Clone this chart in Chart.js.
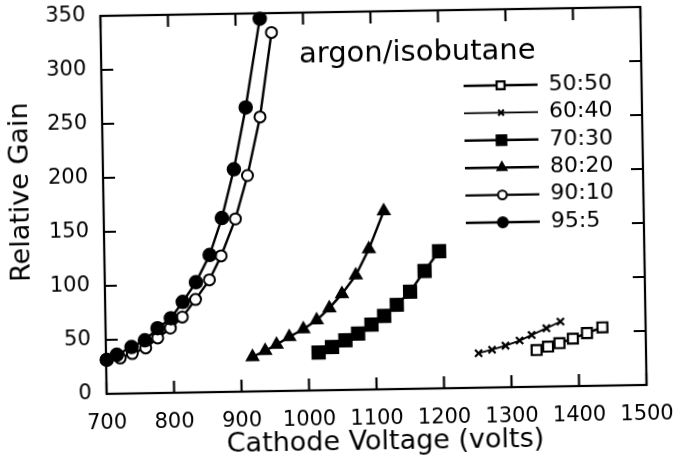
<!DOCTYPE html>
<html>
<head>
<meta charset="utf-8">
<script src="https://cdn.jsdelivr.net/npm/chart.js@4.4.1/dist/chart.umd.min.js"></script>
<style>
  html, body { margin: 0; padding: 0; background: #fff; }
  #wrap { width: 680px; height: 465px; overflow: hidden; }
  /* el original es un escaneo un poco girado */
  #grafico { transform: rotate(-0.95deg); }
</style>
</head>
<body>
<div id="wrap"><canvas id="grafico" width="680" height="465"></canvas></div>
<script>
// Datos

const mezclas = ["50:50", "60:40", "70:30", "80:20", "90:10", "95:5"];

const volts5050 = [1338, 1355, 1372, 1392, 1413, 1436];
const gain5050 = [34, 37, 40, 44, 49, 54];

const volts6040 = [1252, 1272, 1292, 1313, 1331, 1353, 1374];
const gain6040 = [32, 35, 38.5, 43, 48, 54, 60];

const volts7030 = [1015, 1035, 1055, 1074, 1094, 1113, 1132, 1152, 1174, 1196];
const gain7030 = [35, 40, 46, 52, 60, 68, 78, 90, 109, 127];

const volts8020 = [917, 936, 953, 972, 993, 1013, 1032, 1051, 1072, 1092, 1115];
const gain8020 = [32, 37.5, 43, 50, 57, 65, 76, 89, 106, 130, 165];

const volts9010 = [721, 739, 759, 777, 796, 814, 834, 855, 873, 895, 914, 934, 953];
const gain9010 = [33, 37, 42, 51, 60, 70, 86, 104, 126, 160, 200, 254, 332];

const volts955 = [701, 716, 738, 758, 777, 797, 815, 835, 856, 875, 894, 913, 936];
const gain955 = [31.5, 36, 43, 49, 60, 69, 84, 102, 127, 161, 206, 263, 345];

// Ejes
const xMin = 700;
const xMax = 1500;
const xPaso = 100;
const yMin = 0;
const yMax = 350;
const yPaso = 50;

const tituloX = "Cathode Voltage (volts)";
const tituloY = "Relative Gain";
const tituloLeyenda = "argon/isobutane";

const fuente = "'DejaVu Sans', sans-serif";

// Armar puntos x/y
function puntos(volts, gain) {
  return volts.map((v, i) => ({ x: v, y: gain[i] }));
}

function serie(label, volts, gain, estilo) {
  return Object.assign(
    {
      label: label,
      data: puntos(volts, gain),
      borderColor: "#000",
      backgroundColor: "#000",
      pointBorderColor: "#000",
      pointBackgroundColor: "#000",
      borderWidth: 2.4,
      pointBorderWidth: 1.5,
      tension: 0,
      clip: false,
    },
    estilo
  );
}

const datasets = [
  serie(mezclas[0], volts5050, gain5050, {
    pointStyle: "rect",
    pointRadius: 7,
    pointBackgroundColor: "#fff",
    pointBorderWidth: 2.2,
  }),
  serie(mezclas[1], volts6040, gain6040, {
    pointStyle: "crossRot",
    pointRadius: 5,
    pointBorderWidth: 2.2,
    borderWidth: 1.8,
  }),
  serie(mezclas[2], volts7030, gain7030, {
    pointStyle: "rect",
    pointRadius: 9,
  }),
  serie(mezclas[3], volts8020, gain8020, {
    pointStyle: "triangle",
    pointRadius: 7,
  }),
  serie(mezclas[4], volts9010, gain9010, {
    pointStyle: "circle",
    pointRadius: 5.5,
    pointBackgroundColor: "#fff",
    pointBorderWidth: 2,
  }),
  serie(mezclas[5], volts955, gain955, {
    pointStyle: "circle",
    pointRadius: 6.5,
    order: -1,
  }),
];

// Marco con ticks hacia adentro
const marcoPlugin = {
  id: "marco",
  beforeDatasetsDraw(chart) {
    const { ctx, chartArea: a, scales } = chart;
    const largo = 12;
    ctx.save();
    ctx.strokeStyle = "#000";
    ctx.lineWidth = 2.2;
    ctx.strokeRect(a.left, a.top, a.right - a.left, a.bottom - a.top);
    ctx.beginPath();
    scales.x.ticks.forEach((t) => {
      const px = scales.x.getPixelForValue(t.value);
      ctx.moveTo(px, a.bottom);
      ctx.lineTo(px, a.bottom - largo);
      ctx.moveTo(px, a.top);
      ctx.lineTo(px, a.top + largo);
    });
    scales.y.ticks.forEach((t) => {
      const py = scales.y.getPixelForValue(t.value);
      ctx.moveTo(a.left, py);
      ctx.lineTo(a.left + largo, py);
      ctx.moveTo(a.right, py);
      ctx.lineTo(a.right - largo, py);
    });
    ctx.stroke();
    ctx.restore();
  },
};

// Titulos de ejes y leyenda dentro del area
const leyendaPlugin = {
  id: "leyenda",
  afterDraw(chart) {
    const { ctx, chartArea: a } = chart;
    ctx.save();
    ctx.fillStyle = "#000";

    // titulos de los ejes
    ctx.font = "27px " + fuente;
    ctx.textAlign = "center";
    ctx.textBaseline = "alphabetic";
    ctx.fillText(tituloX, (a.left + a.right) / 2 + 8, 450);

    ctx.save();
    ctx.translate(22, 187);
    ctx.rotate(-Math.PI / 2);
    ctx.textBaseline = "middle";
    ctx.fillText(tituloY, 0, 0);
    ctx.restore();

    // leyenda
    ctx.textAlign = "left";
    ctx.font = "29px " + fuente;
    ctx.fillText(tituloLeyenda, a.left + 198, a.top + 50);

    const x0 = a.left + 362;
    const x1 = a.left + 436;
    const xm = a.left + 399;
    const xt = a.left + 447;
    let y = a.top + 76;
    const paso = 27.4;

    ctx.font = "22px " + fuente;
    ctx.textBaseline = "middle";
    chart.data.datasets.forEach((ds) => {
      ctx.strokeStyle = ds.borderColor;
      ctx.lineWidth = ds.borderWidth;
      ctx.beginPath();
      ctx.moveTo(x0, y);
      ctx.lineTo(x1, y);
      ctx.stroke();

      ctx.fillStyle = ds.pointBackgroundColor;
      ctx.strokeStyle = ds.pointBorderColor;
      ctx.lineWidth = ds.pointBorderWidth;
      Chart.helpers.drawPoint(
        ctx,
        { pointStyle: ds.pointStyle, radius: ds.pointRadius * 0.8, borderWidth: ds.pointBorderWidth, rotation: 0 },
        xm,
        y
      );

      ctx.fillStyle = "#000";
      ctx.fillText(ds.label, xt, y);
      y += paso;
    });
    ctx.restore();
  },
};

const config = {
  type: "line",
  data: { datasets: datasets },
  options: {
    responsive: false,
    animation: false,
    devicePixelRatio: 1,
    layout: { padding: { left: 0, right: 36, top: 12, bottom: 0 } },
    plugins: {
      legend: { display: false },
      tooltip: { enabled: false },
    },
    scales: {
      x: {
        type: "linear",
        min: xMin,
        max: xMax,
        grid: { display: false, drawTicks: false },
        border: { display: false },
        ticks: {
          stepSize: xPaso,
          color: "#000",
          padding: 17,
          maxRotation: 0,
          font: { family: fuente, size: 21 },
          callback: (v) => String(v),
        },
        afterFit(scale) {
          scale.height = 75;
          scale.paddingLeft = 0;
          scale.paddingRight = 0;
        },
      },
      y: {
        type: "linear",
        min: yMin,
        max: yMax,
        grid: { display: false, drawTicks: false },
        border: { display: false },
        ticks: {
          stepSize: yPaso,
          color: "#000",
          padding: 15,
          font: { family: fuente, size: 21 },
          callback: (v) => String(v),
        },
        afterFit(scale) {
          scale.width = 104;
          scale.paddingTop = 0;
          scale.paddingBottom = 0;
        },
      },
    },
  },
  plugins: [marcoPlugin, leyendaPlugin],
};

const myChart = new Chart(document.getElementById("grafico"), config);
</script>
</body>
</html>
